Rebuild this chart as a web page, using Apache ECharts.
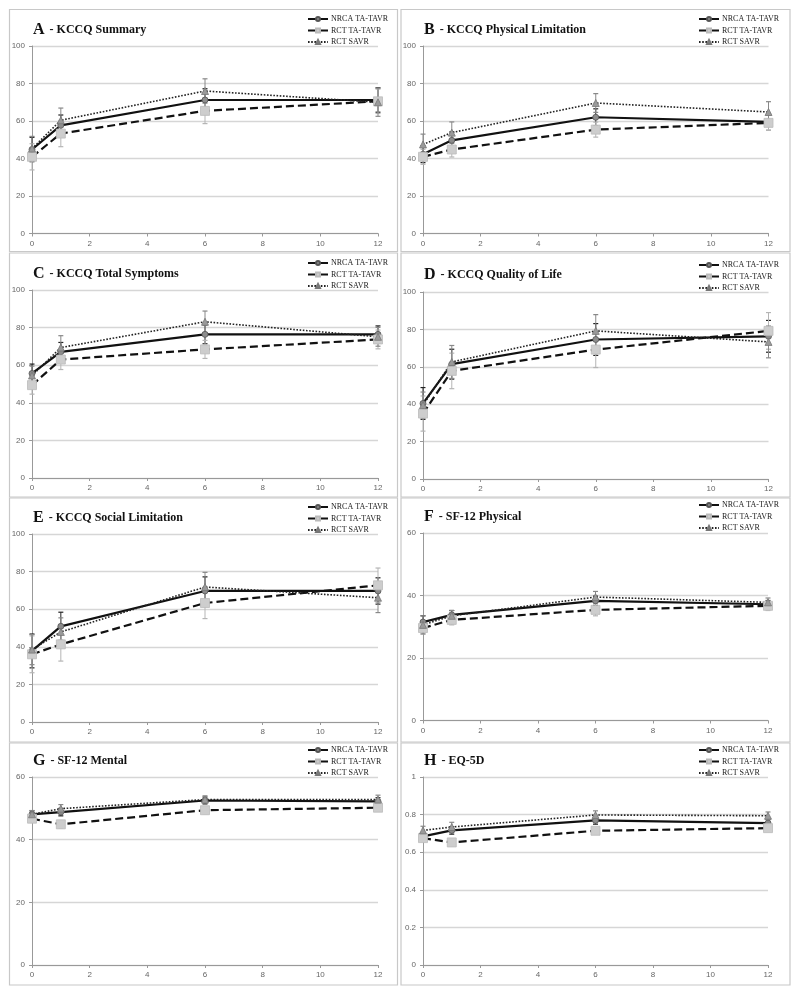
<!DOCTYPE html>
<html>
<head>
<meta charset="utf-8">
<script src="https://cdn.jsdelivr.net/npm/echarts@6/dist/echarts.min.js"></script>
<style>html,body{margin:0;padding:0;background:#fff;}#c{width:800px;height:996px;}</style>
</head>
<body>
<div id="c"></div>
<script>
// ---------- DATA ----------
const months = [0, 1, 6, 12];
const seriesNames = ['NRCA TA-TAVR', 'RCT TA-TAVR', 'RCT SAVR'];
const panelLetters = ['A', 'B', 'C', 'D', 'E', 'F', 'G', 'H'];
const panelTitles = ['- KCCQ Summary', '- KCCQ Physical Limitation', '- KCCQ Total Symptoms', '- KCCQ Quality of Life',
  '- KCCQ Social Limitation', '- SF-12 Physical', '- SF-12 Mental', '- EQ-5D'];
const yMax = [100, 100, 100, 100, 100, 60, 60, 1];
const yInterval = [20, 20, 20, 20, 20, 20, 20, 0.2];
const xTicks = [0, 2, 4, 6, 8, 10, 12];

// means and error half-widths
const A_nrca = [44.8, 57.7, 71.2, 71.2], A_nrcaErr = [6.5, 5.5, 6, 6.5];
const A_ta = [40.9, 53.3, 65.4, 70.5], A_taErr = [7, 7, 6.8, 6.5];
const A_savr = [45.3, 60.4, 76, 70], A_savrErr = [6.5, 6.5, 6.5, 7.5];

const B_nrca = [42.3, 49.7, 62, 59.5], B_nrcaErr = [4.5, 4.5, 4.5, 4.5];
const B_ta = [40.9, 44.8, 55.4, 59], B_taErr = [4, 4, 4, 4];
const B_savr = [47.5, 53.8, 69.6, 64.8], B_savrErr = [5.5, 5.7, 5, 5.5];

const C_nrca = [55.6, 67.1, 76.4, 76.4], C_nrcaErr = [5, 5, 5, 4.5];
const C_ta = [49.4, 63, 68.4, 73.7], C_taErr = [4.8, 5.3, 4.8, 5];
const C_savr = [54.5, 69.4, 83.1, 75.1], C_savrErr = [5, 6.3, 5.7, 5];

const D_nrca = [40.4, 61.4, 74.6, 76.3], D_nrcaErr = [8.5, 8, 8.5, 8.5];
const D_ta = [35, 57.8, 69.2, 79.2], D_taErr = [9.4, 9.5, 9.6, 9.8];
const D_savr = [39.5, 62.6, 79.2, 73.3], D_savrErr = [7, 8.8, 8.7, 8.5];

const E_nrca = [37.8, 50.9, 69.7, 69.7], E_nrcaErr = [9, 7.5, 7.5, 7];
const E_ta = [36, 41.3, 63.3, 72.7], E_taErr = [9.8, 8.9, 8.3, 9.2];
const E_savr = [38.5, 47.9, 71.8, 66.1], E_savrErr = [8, 7.5, 7.8, 7.9];

const F_nrca = [31.5, 33.8, 38.3, 37.2], F_nrcaErr = [2, 1.4, 1.5, 1.2];
const F_ta = [29.6, 32.2, 35.4, 36.7], F_taErr = [1.9, 1.6, 1.9, 1.5];
const F_savr = [30.6, 33.5, 39.5, 37.8], F_savrErr = [2.9, 1.7, 1.8, 1.4];

const G_nrca = [48.1, 48.8, 52.5, 52.2], G_nrcaErr = [1.1, 1.2, 1.1, 1.2];
const G_ta = [46.7, 44.9, 49.4, 50.2], G_taErr = [1.2, 1.2, 1.1, 1.1];
const G_savr = [48.1, 49.9, 52.8, 52.8], G_savrErr = [1.2, 1.3, 1.2, 1.4];

const H_nrca = [0.684, 0.716, 0.769, 0.755], H_nrcaErr = [0.02, 0.02, 0.02, 0.02];
const H_ta = [0.675, 0.652, 0.714, 0.728], H_taErr = [0.015, 0.015, 0.015, 0.015];
const H_savr = [0.716, 0.734, 0.798, 0.794], H_savrErr = [0.022, 0.025, 0.022, 0.02];

const panelData = [
  [[A_nrca, A_nrcaErr], [A_ta, A_taErr], [A_savr, A_savrErr]],
  [[B_nrca, B_nrcaErr], [B_ta, B_taErr], [B_savr, B_savrErr]],
  [[C_nrca, C_nrcaErr], [C_ta, C_taErr], [C_savr, C_savrErr]],
  [[D_nrca, D_nrcaErr], [D_ta, D_taErr], [D_savr, D_savrErr]],
  [[E_nrca, E_nrcaErr], [E_ta, E_taErr], [E_savr, E_savrErr]],
  [[F_nrca, F_nrcaErr], [F_ta, F_taErr], [F_savr, F_savrErr]],
  [[G_nrca, G_nrcaErr], [G_ta, G_taErr], [G_savr, G_savrErr]],
  [[H_nrca, H_nrcaErr], [H_ta, H_taErr], [H_savr, H_savrErr]]
];

// ---------- LAYOUT ----------
const grids = [
  {left: 32, top: 46, width: 346, height: 187.5},
  {left: 423, top: 46, width: 345.5, height: 187.5},
  {left: 32, top: 290, width: 346, height: 188},
  {left: 423, top: 292, width: 345.5, height: 187},
  {left: 32, top: 534, width: 346, height: 188},
  {left: 423, top: 533, width: 345, height: 187.5},
  {left: 32, top: 777, width: 346, height: 188},
  {left: 423, top: 777, width: 345, height: 188}
];
const titleTops = [16, 16, 260, 261, 504, 503, 747, 747];
const legendTops = [10, 10, 254, 256, 498, 496, 741, 741];
const boxes = [
  [9.5, 9.5, 388, 242], [401, 9.5, 389, 242],
  [9.5, 253, 388, 244], [401, 253, 389, 244],
  [9.5, 498, 388, 244], [401, 498, 389, 244],
  [9.5, 743, 388, 242], [401, 743, 389, 242]
];

const lineStyles = [
  {type: 'solid', width: 2.2, color: '#111'},
  {type: [8, 4], width: 2.2, color: '#111'},
  {type: [1.6, 1.6], width: 1.6, color: '#222'}
];
const symbols = ['circle', 'rect', 'triangle'];
const symbolSizes = [6, 9, 7];
const symbolColors = ['#8c8c8c', '#cdcdcd', '#9a9a9a'];
const symbolBorders = ['#555', '#bbb', '#777'];
const errColors = ['#222', '#b5b5b5', '#888'];

const serif = 'Liberation Serif, Times New Roman, serif';
const sans = 'Liberation Sans, Arial, sans-serif';

const option = {
  backgroundColor: '#fff',
  animation: false,
  title: [], legend: [], grid: [], xAxis: [], yAxis: [], series: [],
  graphic: []
};

boxes.forEach(b => {
  option.graphic.push({type: 'rect', shape: {x: b[0], y: b[1], width: b[2], height: b[3]},
    style: {fill: 'none', stroke: '#c8c8c8', lineWidth: 1.2}, silent: true, z: -1});
});

grids.forEach((g, i) => {
  const isLeft = i % 2 === 0;
  option.grid.push(Object.assign({containLabel: false}, g));
  option.title.push({
    left: g.left - 4, top: titleTops[i],
    text: '{l|' + panelLetters[i] + '} {t|' + panelTitles[i] + '}',
    textStyle: {rich: {
      l: {fontFamily: serif, fontWeight: 'bold', fontSize: 16, color: '#111'},
      t: {fontFamily: serif, fontWeight: 'bold', fontSize: 12, color: '#111'}
    }}
  });
  option.legend.push({
    data: seriesNames, orient: 'vertical',
    left: isLeft ? 302 : 693, top: legendTops[i],
    itemWidth: 20, itemHeight: 5, itemGap: 3.5,
    textStyle: {fontFamily: serif, fontSize: 8, color: '#222', padding: [0, 0, 0, -2]},
    selectedMode: false
  });
  option.xAxis.push({
    type: 'value', gridIndex: i, min: 0, max: 12, interval: 2,
    axisLine: {show: true, lineStyle: {color: '#999', width: 1}},
    axisTick: {show: true, inside: false, length: 3, lineStyle: {color: '#999'}},
    axisLabel: {fontFamily: sans, fontSize: 8, color: '#666', margin: 6,
      formatter: v => xTicks.includes(v) ? String(v) : ''},
    splitLine: {show: false}
  });
  option.yAxis.push({
    type: 'value', gridIndex: i, min: 0, max: yMax[i], interval: yInterval[i],
    axisLine: {show: true, lineStyle: {color: '#999', width: 1}},
    axisTick: {show: true, length: 3, lineStyle: {color: '#999'}},
    axisLabel: {fontFamily: sans, fontSize: 8, color: '#666', margin: 7},
    splitLine: {show: true, lineStyle: {color: '#d6d6d6', width: 1.4}}
  });
  panelData[i].forEach((sd, k) => {
    const means = sd[0], errs = sd[1];
    // error bars
    option.series.push({
      type: 'custom', xAxisIndex: i, yAxisIndex: i, z: 1, silent: true,
      data: months.map((m, j) => [m, means[j] - errs[j], means[j] + errs[j]]),
      encode: {x: 0, y: [1, 2]},
      renderItem: (params, api) => {
        const x = api.value(0);
        const p1 = api.coord([x, api.value(1)]);
        const p2 = api.coord([x, api.value(2)]);
        const c = errColors[k];
        const w = 2.5;
        return {type: 'group', children: [
          {type: 'line', shape: {x1: p1[0], y1: p1[1], x2: p2[0], y2: p2[1]}, style: {stroke: c, lineWidth: 1}},
          {type: 'line', shape: {x1: p1[0] - w, y1: p1[1], x2: p1[0] + w, y2: p1[1]}, style: {stroke: c, lineWidth: 1.2}},
          {type: 'line', shape: {x1: p2[0] - w, y1: p2[1], x2: p2[0] + w, y2: p2[1]}, style: {stroke: c, lineWidth: 1.2}}
        ]};
      }
    });
  });
  panelData[i].forEach((sd, k) => {
    const means = sd[0];
    option.series.push({
      type: 'line', name: seriesNames[k], xAxisIndex: i, yAxisIndex: i, z: 3,
      data: months.map((m, j) => [m, means[j]]),
      symbol: symbols[k], symbolSize: symbolSizes[k], showSymbol: true,
      itemStyle: {color: symbolColors[k], borderColor: symbolBorders[k], borderWidth: 0.8},
      lineStyle: lineStyles[k]
    });
  });
});

const chart = echarts.init(document.getElementById('c'), null, {renderer: 'canvas'});
chart.setOption(option);
</script>
</body>
</html>
